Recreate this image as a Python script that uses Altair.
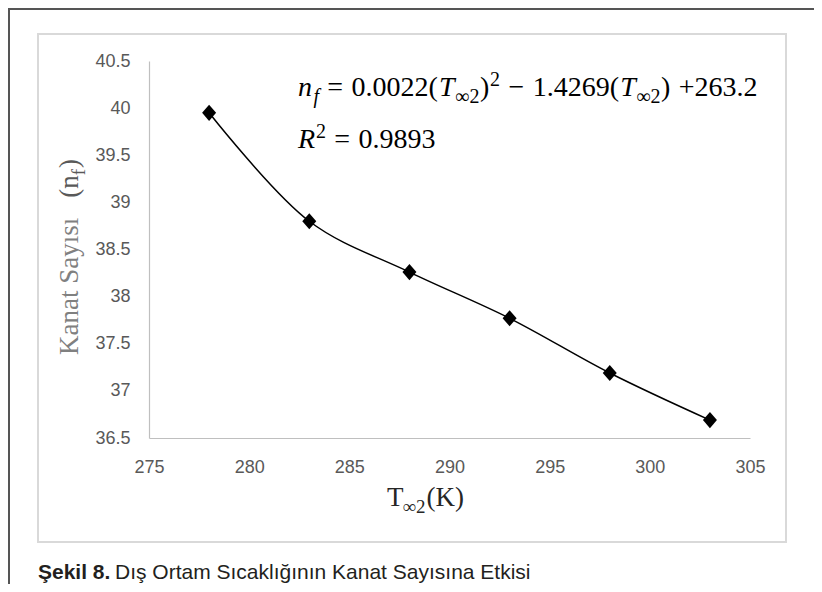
import altair as alt
import pandas as pd

# ---------------- data ----------------
temps = [278, 283, 288, 293, 298, 303]
fins = [39.95, 38.80, 38.26, 37.77, 37.19, 36.69]
x_ticks = [275, 280, 285, 290, 295, 300, 305]
y_ticks = [36.5, 37, 37.5, 38, 38.5, 39, 39.5, 40, 40.5]
eq_line1 = ["n", "f", "=", "0.0022(", "T", "∞2", ")", "2", "−", "1.4269(", "T", "∞2", ")", "+263.2"]
eq_line2 = ["R", "2", "=", "0.9893"]
y_title = ["Kanat Sayısı", "(n", "f", ")"]
x_title = ["T", "∞2", "(K)"]
caption = ["Şekil 8.", "Dış Ortam Sıcaklığının Kanat Sayısına Etkisi"]

# ---------------- layout ----------------
W, H = 601, 377          # plot area
OX, OY = 149, 61         # page position of plot origin
CW, CH = 806, 576        # whole canvas
PAD = {"left": OX - 8, "top": OY - 8, "right": CW - (OX - 8) - W, "bottom": CH - (OY - 8) - H}


def px(x):
    return x - OX


def py(y):
    return y - OY


SERIF = "Liberation Serif"
SANS = "Liberation Sans"
LABEL_FONT = "Liberation Sans Narrow, Arial Narrow, Liberation Sans, sans-serif"

REG = {**{d: 0.5 for d in "0123456789"}, ".": 0.25, "(": 0.333, ")": 0.333, "=": 0.564,
       "+": 0.564, "−": 0.564, "∞": 0.713, " ": 0.25, "K": 0.722, "n": 0.5, "f": 0.333,
       "T": 0.611, "a": 0.444, "t": 0.278, "S": 0.556, "y": 0.5, "ı": 0.278, "s": 0.389}
IT = {"n": 0.5, "f": 0.278, "T": 0.556, "R": 0.611}


def text_w(s, size, italic=False):
    m = IT if italic else REG
    return sum(m.get(c, 0.5) for c in s) * size


def txt(s, x, y, size, style="normal", weight="normal", color="#000000", font=SERIF, angle=0):
    return alt.Chart(pd.DataFrame({"t": [s]})).mark_text(
        align="left", baseline="alphabetic", font=font, fontSize=size,
        fontStyle=style, fontWeight=weight, color=color, angle=angle
    ).encode(text="t:N", x=alt.value(x), y=alt.value(y))


def flow(pieces, roles, gaps, x0, y0, S, s, color="#000000"):
    out = []
    x = x0
    for p, r, g in zip(pieces, roles, gaps):
        x += g * S
        italic = r in ("it", "isub")
        size = s if r in ("isub", "sub", "sup") else S
        dy = 7 if r in ("isub", "sub") else (-10 if r == "sup" else 0)
        out.append(txt(p, x, y0 + dy, size, style="italic" if italic else "normal", color=color))
        x += text_w(p, size, italic)
    return out


layers = []

# frames
layers.append(
    alt.Chart(pd.DataFrame({"a": [0]})).mark_rect(fillOpacity=0, stroke="#d9d9d9", strokeWidth=2)
    .encode(x=alt.value(px(38)), x2=alt.value(px(786)), y=alt.value(py(34)), y2=alt.value(py(542)))
)
layers.append(
    alt.Chart(pd.DataFrame({"a": [0]})).mark_rule(color="#555555", strokeWidth=2)
    .encode(x=alt.value(px(9)), y=alt.value(py(9)), y2=alt.value(py(8 + CH)))
)
layers.append(
    alt.Chart(pd.DataFrame({"a": [0]})).mark_rule(color="#555555", strokeWidth=2)
    .encode(x=alt.value(px(8)), x2=alt.value(px(8 + CW)), y=alt.value(py(9)))
)

df = pd.DataFrame({"T": temps, "n": fins})
xenc = alt.X("T:Q", scale=alt.Scale(domain=[275, 305], nice=False, zero=False),
             axis=alt.Axis(values=x_ticks, format="d", title=None, labelPadding=20, labelFlush=False))
yenc = alt.Y("n:Q", scale=alt.Scale(domain=[36.5, 40.5], nice=False, zero=False),
             axis=alt.Axis(values=y_ticks, format=".1~f", title=None, labelPadding=19))
base = alt.Chart(df).encode(x=xenc, y=yenc)
layers.append(base.mark_line(interpolate="catmull-rom", color="#000000", strokeWidth=1.5))
layers.append(base.mark_point(shape="M0,-1.15L1,0L0,1.15L-1,0Z", filled=True, size=196,
                              color="#000000", opacity=1))

# equation
S, s = 28, 20
layers += flow(eq_line1,
               ["it", "isub", "op", "reg", "it", "sub", "reg", "sup", "op", "reg", "it", "sub", "reg", "reg"],
               [0, 0.05, 0.3, 0.3, 0.04, 0.02, 0.02, 0.03, 0.3, 0.3, 0.04, 0.02, 0.02, 0.3],
               px(298), py(96), S, s)
layers += flow(eq_line2, ["it", "sup", "op", "reg"], [0, 0.03, 0.3, 0.3], px(298), py(148), S, s)

# x title
xt_x = 387
layers.append(txt(x_title[0], px(xt_x), py(506), 27, color="#262626"))
xt_x += text_w("T", 27) - 1
layers.append(txt(x_title[1], px(xt_x), py(513), 19, color="#262626"))
xt_x += text_w(x_title[1], 19) + 1
layers.append(txt(x_title[2], px(xt_x), py(506), 27, color="#262626"))

# y title (rotated)
yb = 355
layers.append(txt(y_title[0], px(78), py(yb), 27, color="#808080", angle=270))
yb -= text_w(y_title[0], 27) + 20
layers.append(txt(y_title[1], px(78), py(yb), 27, color="#595959", angle=270))
yb -= text_w(y_title[1], 27)
layers.append(txt(y_title[2], px(85), py(yb), 19, color="#595959", angle=270))
yb -= text_w(y_title[2], 19) + 1
layers.append(txt(y_title[3], px(78), py(yb), 27, color="#595959", angle=270))

# caption
layers.append(txt(caption[0], px(38), py(579), 21, weight="bold", color="#231f20", font=SANS))
layers.append(txt(caption[1], px(115), py(579), 21, color="#231f20", font=SANS))

chart = alt.layer(*layers).properties(
    width=W, height=H,
    autosize=alt.AutoSizeParams(type="none"),
    padding=PAD,
    background="white",
).configure_view(stroke=None).configure_axis(
    grid=False, ticks=False, domainColor="#bfbfbf", domainWidth=1.2,
    labelFont=LABEL_FONT, labelFontSize=18, labelColor="#595959"
)

chart.save("out.html", embed_options={"renderer": "svg", "actions": False})
